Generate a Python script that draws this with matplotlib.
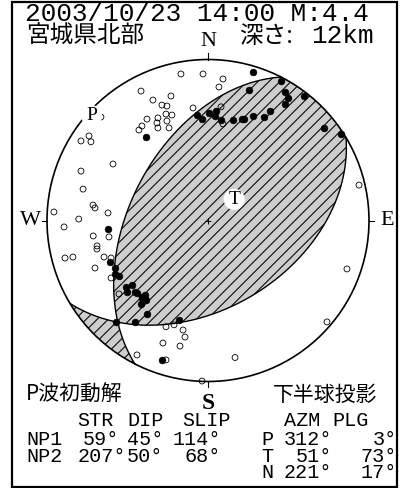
import numpy as np
import matplotlib
matplotlib.use("Agg")
import matplotlib.pyplot as plt
from matplotlib.patches import Polygon, Circle, Rectangle
from matplotlib.collections import LineCollection

# ---------------- data ----------------
title_line = "2003/10/23 14:00 M:4.4"
region_name = "宮城県北部"
depth_label = "深さ:"
depth_value = "12km"

plane_names = ["NP1", "NP2"]
plane_strike = [59, 207]
plane_dip = [45, 50]
plane_slip = [114, 68]

axis_names = ["P", "T", "N"]
axis_azm = [312, 51, 221]
axis_plg = [3, 73, 17]

# first-motion polarities, stereonet coordinates (unit circle, x=East, y=North)
up_x = [-0.385, -0.068, -0.037, 0.006, 0.043, 0.050, 0.081, 0.155, -0.621,
        0.280, 0.453, 0.255, 0.478, 0.497, 0.478, 0.596, 0.211, 0.224, 0.280,
        0.348, 0.385, 0.721, 0.826, -0.609, -0.578, -0.578, -0.553, -0.509,
        -0.472, -0.503, -0.453, -0.441, -0.410, -0.391, -0.385, -0.410, -0.416,
        -0.379, -0.453, -0.571, -0.180, -0.286]
up_y = [0.519, 0.655, 0.631, 0.668, 0.649, 0.680, 0.624, 0.624, -0.053,
        0.922, 0.866, 0.810, 0.798, 0.761, 0.724, 0.773, 0.630, 0.630, 0.649,
        0.643, 0.680, 0.575, 0.537, -0.258, -0.295, -0.332, -0.345, -0.413,
        -0.401, -0.444, -0.444, -0.450, -0.475, -0.463, -0.494, -0.481, -0.519,
        -0.581, -0.631, -0.631, -0.618, -0.866]
down_x = [-0.168, -0.031, 0.093, 0.068, -0.416, -0.230, -0.342, -0.286,
          -0.255, -0.261, -0.224, -0.311, -0.379, -0.255, -0.317, -0.410,
          -0.429, -0.311, -0.242, -0.093, 0.081, 0.093, -0.665, -0.739,
          -0.789, -0.727, -0.590, -0.789, -0.776, -0.714, -0.702, -0.957,
          -0.621, -0.803, -0.894, -0.713, -0.615, -0.689, -0.690, -0.839,
          -0.888, -0.646, -0.602, -0.702, -0.602, -0.553, -0.261, -0.211,
          -0.155, -0.143, -0.280, -0.174, -0.441, -0.261, 0.168, -0.037,
          0.938, 0.863, 0.739]
down_y = [0.910, 0.910, 0.879, 0.829, 0.804, 0.773, 0.748, 0.717, 0.711,
          0.661, 0.655, 0.637, 0.630, 0.618, 0.606, 0.587, 0.562, 0.575,
          0.575, 0.699, 0.706, 0.600, 0.643, 0.525, 0.494, 0.489, 0.351,
          0.307, 0.195, 0.096, 0.078, 0.053, 0.047, 0.009, -0.040, -0.096,
          -0.102, -0.158, -0.177, -0.227, -0.233, -0.227, -0.233, -0.295,
          -0.357, -0.456, -0.660, -0.648, -0.680, -0.724, -0.761, -0.780,
          -0.835, -0.866, -0.851, -0.997, 0.220, -0.301, -0.630]

# ---------------- helpers ----------------
CX, CY, R = 208.0, 220.5, 161.0
W_PX, H_PX = 401, 488


def plane_vectors(strike, dip):
    s = np.radians(strike)
    d = np.radians(dip)
    sv = np.array([np.cos(s), np.sin(s), 0.0])                      # N, E, Down
    dv = np.array([np.cos(d) * np.cos(s + np.pi / 2),
                   np.cos(d) * np.sin(s + np.pi / 2), np.sin(d)])
    return sv, dv


def plane_points(strike, dip, t):
    sv, dv = plane_vectors(strike, dip)
    return np.outer(np.cos(t), sv) + np.outer(np.sin(t), dv)


def project(v):
    v = np.atleast_2d(v)
    n, e, d = v[:, 0], v[:, 1], v[:, 2]
    f = 1.0 / np.sqrt(1.0 + d)
    return e * f, n * f


def axis_xy(azm, plg):
    a, p = np.radians(azm), np.radians(plg)
    v = np.array([np.cos(p) * np.cos(a), np.cos(p) * np.sin(a), np.sin(p)])
    x, y = project(v)
    return x[0], y[0]


def fx(px):
    return px / W_PX


def fy(py):
    return 1 - py / H_PX


# ---------------- figure ----------------
fig = plt.figure(figsize=(W_PX / 100, H_PX / 100), dpi=100)
ax = fig.add_axes([0, 0, 1, 1])
ax.set_xlim(-CX / R, (W_PX - CX) / R)
ax.set_ylim((CY - H_PX) / R, CY / R)
ax.set_aspect("equal")
ax.axis("off")

# frame
frame = Rectangle((fx(12), fy(487)), fx(397) - fx(12), fy(2) - fy(487),
                  transform=fig.transFigure, fill=False, lw=1.6,
                  edgecolor="black", zorder=10)
fig.patches.append(frame)

# nodal planes & intersection
sv1, dv1 = plane_vectors(plane_strike[0], plane_dip[0])
sv2, dv2 = plane_vectors(plane_strike[1], plane_dip[1])
b = np.cross(np.cross(sv1, dv1), np.cross(sv2, dv2))
if b[2] < 0:
    b = -b
tb1 = np.arctan2(b @ dv1, b @ sv1) % np.pi
tb2 = np.arctan2(b @ dv2, b @ sv2) % np.pi


def arc_xy(strike, dip, t0, t1, n=300):
    t = np.linspace(t0, t1, n)
    return project(plane_points(strike, dip, t))


def circ_xy(a0, a1, n=100):
    a = np.radians(np.linspace(a0, a1, n))
    return np.sin(a), np.cos(a)


# T lens
x1, y1 = arc_xy(plane_strike[0], plane_dip[0], 0, tb1)
x2, y2 = arc_xy(plane_strike[1], plane_dip[1], tb2, np.pi)
x3, y3 = circ_xy((plane_strike[1] + 180) % 360, plane_strike[0])
lens1 = np.column_stack([np.r_[x1, x2, x3], np.r_[y1, y2, y3]])
# small lens
x1, y1 = arc_xy(plane_strike[0], plane_dip[0], tb1, np.pi)
x2, y2 = circ_xy(plane_strike[0] + 180, plane_strike[1])
x3, y3 = arc_xy(plane_strike[1], plane_dip[1], 0, tb2)
lens2 = np.column_stack([np.r_[x1, x2, x3], np.r_[y1, y2, y3]])

spacing = 11.0 / R
cs = np.arange(-3, 3, spacing)
segs = [[(-2, -2 + c), (2, 2 + c)] for c in cs]
for lens in (lens1, lens2):
    poly = Polygon(lens, closed=True, facecolor="#cdcdcd", edgecolor="none",
                   zorder=1)
    ax.add_patch(poly)
    lc = LineCollection(segs, colors="black", linewidths=0.75, zorder=2)
    ax.add_collection(lc)
    lc.set_clip_path(poly)

for st, dp in zip(plane_strike, plane_dip):
    x, y = arc_xy(st, dp, 0, np.pi, 600)
    ax.plot(x, y, color="black", lw=1.0, zorder=3)

# primitive circle and ticks
ax.add_patch(Circle((0, 0), 1.0, fill=False, lw=1.2, edgecolor="black",
                    zorder=3))
tk = 1.0 / R
ax.plot([0, 0], [1, 1 + 7 * tk], color="black", lw=0.8)
ax.plot([0, 0], [-1, -1 - 5 * tk], color="black", lw=0.8)
ax.plot([1, 1 + 5 * tk], [0, 0], color="black", lw=0.8)
ax.plot([-1, -1 - 5 * tk], [0, 0], color="black", lw=0.8)

# centre cross
ax.plot([0], [0], marker="+", color="black", ms=5, mew=0.7, zorder=4)

# polarity data
ax.scatter(down_x, down_y, s=18, facecolors="none", edgecolors="black",
           linewidths=0.6, zorder=5)
ax.scatter(up_x, up_y, s=24, facecolors="black", edgecolors="black",
           linewidths=0.4, zorder=6)

# P and T axes labels
for name, az, pl in zip(axis_names[:2], axis_azm[:2], axis_plg[:2]):
    x, y = axis_xy(az, pl)
    ax.add_patch(Circle((x, y), 10.5 / R, facecolor="white",
                        edgecolor="none", zorder=7))
    ax.text(x, y, name, family="Liberation Serif", fontsize=14,
            ha="center", va="center", zorder=8)

# compass letters
serif = "Liberation Serif"
ax.text(0, 1 + 18 * tk, "N", family=serif, fontsize=16, ha="center",
        va="center")
ax.text(0, -1 - 22 * tk, "S", family=serif, fontsize=17, ha="center",
        va="center", weight="bold")
ax.text(-1 - 17 * tk, 0, "W", family=serif, fontsize=16, ha="center",
        va="center")
ax.text(1 + 18 * tk, 0, "E", family=serif, fontsize=16, ha="center",
        va="center")

# header texts
mono = "Liberation Mono"
cjk = ["Noto Sans CJK JP", "DejaVu Sans"]
fig.text(fx(25), fy(21), title_line, family=mono, fontsize=18.8,
         va="baseline", ha="left")
fig.text(fx(26), fy(43), region_name, family=cjk, fontsize=17,
         va="baseline", ha="left")
fig.text(fx(239), fy(43), depth_label, family=cjk, fontsize=17,
         va="baseline", ha="left")
fig.text(fx(311), fy(43), depth_value, family=mono, fontsize=18.8,
         va="baseline", ha="left")

# bottom texts
fig.text(fx(26), fy(401), "P波初動解", family=cjk, fontsize=15,
         va="baseline", ha="left")
fig.text(fx(273), fy(401), "下半球投影", family=cjk, fontsize=15,
         va="baseline", ha="left")

fs = 14.5
row_y = [426, 445, 462, 478]
for lab, xl in zip(["STR", "DIP", "SLIP", "AZM", "PLG"],
                   [77, 127, 182, 284, 332]):
    fig.text(fx(xl), fy(row_y[0]), lab, family=mono, fontsize=fs,
             va="baseline", ha="left")

col_right = [[119, 163, 221], [126, 163, 221]]
for i, name in enumerate(plane_names):
    yy = fy(row_y[1 + i])
    fig.text(fx(26), yy, name, family=mono, fontsize=fs, va="baseline",
             ha="left")
    for val, xr in zip([plane_strike[i], plane_dip[i], plane_slip[i]],
                       col_right[i]):
        fig.text(fx(xr), yy, f"{val}°", family=mono, fontsize=fs,
                 va="baseline", ha="right")

for i, name in enumerate(axis_names):
    yy = fy(row_y[1 + i])
    fig.text(fx(261), yy, name, family=mono, fontsize=fs, va="baseline",
             ha="left")
    fig.text(fx(332), yy, f"{axis_azm[i]}°", family=mono, fontsize=fs,
             va="baseline", ha="right")
    fig.text(fx(397), yy, f"{axis_plg[i]}°", family=mono, fontsize=fs,
             va="baseline", ha="right")

fig.savefig("out.png", dpi=100)
